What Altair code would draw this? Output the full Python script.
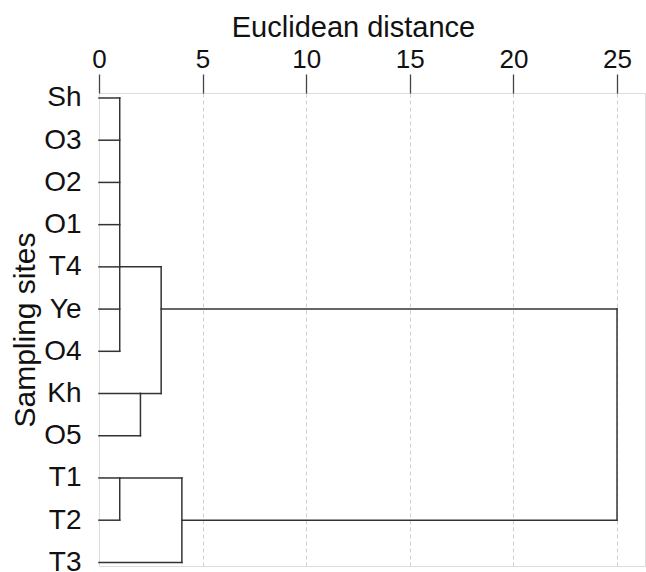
import altair as alt
import pandas as pd

# Leaf order (top to bottom)
sites = ["Sh", "O3", "O2", "O1", "T4", "Ye", "O4", "Kh", "O5", "T1", "T2", "T3"]
# distance at which each leaf first joins a cluster
leaf_join_height = [1, 1, 1, 1, 1, 1, 1, 2, 2, 1, 1, 4]

# internal nodes of the dendrogram
node_height = [1, 2, 3, 1, 4, 25]
node_row_top = [0, 7, 4, 9, 9, 5]
node_row_bottom = [6, 8, 7, 10, 11, 10]
node_link_row = [4, 7, 5, 9, 10, None]
node_parent_height = [3, 3, 25, 4, 25, None]

x_ticks = [0, 5, 10, 15, 20, 25]

rows = []
for i, h in enumerate(leaf_join_height):
    rows.append({"x": 0, "x2": h, "y": i, "y2": i})
for h, t, b, lr, ph in zip(node_height, node_row_top, node_row_bottom,
                           node_link_row, node_parent_height):
    rows.append({"x": h, "x2": h, "y": t, "y2": b})
    if ph is not None:
        rows.append({"x": h, "x2": ph, "y": lr, "y2": lr})
df = pd.DataFrame(rows)

label_expr = "[" + ",".join("'%s'" % s for s in sites) + "][datum.value]"
FONT = "Liberation Sans"

chart = alt.Chart(df).mark_rule(color="#333333", strokeWidth=1.5, strokeCap="square").encode(
    x=alt.X("x:Q",
            scale=alt.Scale(domain=[0, 26.35], nice=False, zero=False),
            axis=alt.Axis(orient="top", values=x_ticks, title="Euclidean distance",
                          titleFontSize=29, titleFont=FONT, titleFontWeight="normal",
                          titleColor="#111111", titlePadding=4, titleX=254,
                          labelFontSize=26, labelFont=FONT, labelColor="#111111",
                          labelPadding=2, labelFlush=False, tickSize=19,
                          tickColor="#444444", tickWidth=1.3, domain=False,
                          grid=True, gridDash=[4, 3], gridWidth=1,
                          gridColor={"expr": "datum.value == 0 ? 'rgba(0,0,0,0)' : '#cfcfcf'"})),
    x2="x2:Q",
    y=alt.Y("y:Q",
            scale=alt.Scale(domain=[-0.118, 11.085], reverse=True, nice=False, zero=False),
            axis=alt.Axis(values=list(range(len(sites))), labelExpr=label_expr,
                          title="Sampling sites", titleFontSize=30, titleFont=FONT,
                          titleFontWeight="normal", titleColor="#111111", titlePadding=3,
                          labelFontSize=28, labelFont=FONT, labelColor="#111111",
                          labelPadding=18, ticks=False, domain=False, grid=False)),
    y2="y2:Q",
).properties(
    width=546, height=473,
    autosize=alt.AutoSizeParams(type="none"),
    padding={"left": 99, "top": 93, "right": 1, "bottom": 6},
).configure_view(
    stroke="#555555", strokeWidth=1.3
).configure(background="white")

chart.save("out.html", embed_options={"renderer": "svg", "actions": False})
